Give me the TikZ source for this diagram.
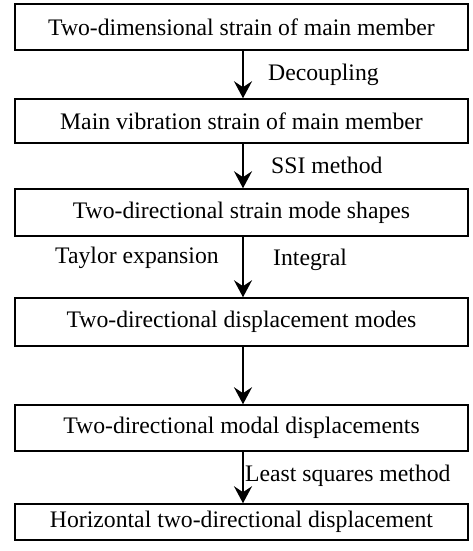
\documentclass[tikz,border=0pt]{standalone}
\usepackage{fontspec}
\setmainfont{Liberation Serif}
\usetikzlibrary{arrows.meta}
\begin{document}
\begin{tikzpicture}[x=1pt,y=-1pt,
  box/.style={draw=black,line width=1.5pt,minimum width=453pt,inner sep=0pt,
    font=\fontsize{23.7}{28}\selectfont},
  lbl/.style={inner sep=0pt,anchor=base west,font=\fontsize{23.7}{28}\selectfont},
  arr/.style={line width=2.2pt,-{Stealth[length=17pt,width=18pt,inset=6pt]}}]
\useasboundingbox (0,0) rectangle (473,551);
\node[box,minimum height=46pt] (b1) at (241.5,27) {Two-dimensional strain of main member};
\node[box,minimum height=44pt] (b2) at (241.5,121) {Main vibration strain of main member};
\node[box,minimum height=47pt] (b3) at (241.5,212.5) {Two-directional strain mode shapes};
\node[box,minimum height=48pt] (b4) at (241.5,322) {Two-directional displacement modes};
\node[box,minimum height=46pt] (b5) at (241.5,428) {Two-directional modal displacements};
\node[box,minimum height=36pt] (b6) at (241.5,522) {Horizontal two-directional displacement};
\draw[arr] ([xshift=1.5pt]b1.south) -- ([xshift=1.5pt]b2.north);
\draw[arr] ([xshift=1.5pt]b2.south) -- ([xshift=1.5pt]b3.north);
\draw[arr] ([xshift=1.5pt]b3.south) -- ([xshift=1.5pt]b4.north);
\draw[arr] ([xshift=1.5pt]b4.south) -- ([xshift=1.5pt]b5.north);
\draw[arr] ([xshift=1.5pt]b5.south) -- ([xshift=1.5pt]b6.north);
\node[lbl] (l1) at (268,81) {Decoupling};
\node[lbl] (l2) at (271,173) {SSI method};
\node[lbl] (l3) at (55,263) {Taylor expansion};
\node[lbl] (l4) at (273,265) {Integral};
\node[lbl] (l5) at (245,481) {Least squares method};
\end{tikzpicture}
\end{document}
